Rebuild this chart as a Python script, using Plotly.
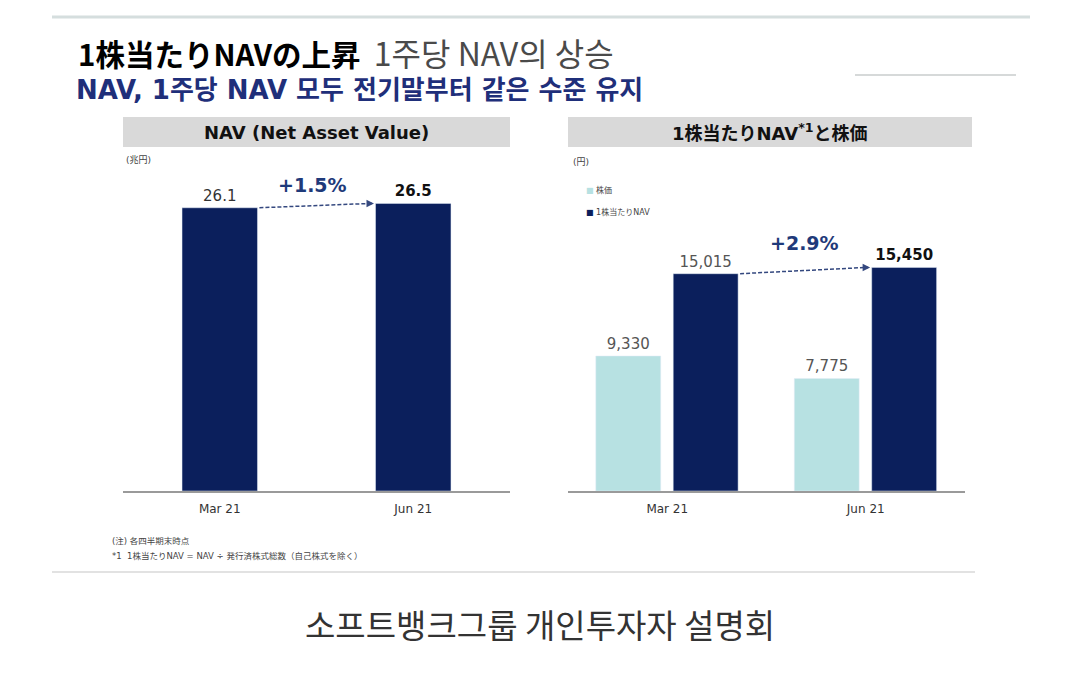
import plotly.graph_objects as go

# ---- data ----
periods = ["Mar 21", "Jun 21"]
nav_trillion = [26.1, 26.5]
nav_change = "+1.5%"
stock_price = [9330, 7775]
nav_per_share = [15015, 15450]
nps_change = "+2.9%"
series_names = ["株価", "1株当たりNAV"]

NAVY = "#0b1f5c"
TEAL = "#b7e1e2"
LAT = "DejaVu Sans, Noto Sans CJK JP"
JP = "Noto Sans CJK JP"
KR = "Noto Sans CJK KR"

W, H = 1080, 674
OFF = 8  # page body margin
def px(x):
    return (x - OFF) / W
def py(y):
    return 1 - (y - OFF) / H

fig = go.Figure()

# bar geometry (category units)
L_W, L_OFF = 0.39, -0.195
S_W, S_OFF = 0.327, -0.36
N_W, N_OFF = 0.327, 0.03

# left chart
fig.add_trace(go.Bar(
    x=periods, y=nav_trillion, xaxis="x", yaxis="y",
    marker_color=NAVY, width=L_W, offset=L_OFF,
    text=[f"{nav_trillion[0]}", f"<b>{nav_trillion[1]}</b>"],
    textposition="outside", cliponaxis=False,
    textfont=dict(family=LAT, size=15, color=["#333333", "#111111"]),
    showlegend=False, hoverinfo="skip",
))

# right chart
fig.add_trace(go.Bar(
    x=periods, y=stock_price, xaxis="x2", yaxis="y2", name=series_names[0],
    marker_color=TEAL, width=S_W, offset=S_OFF,
    text=[f"{v:,}" for v in stock_price],
    textposition="outside", cliponaxis=False,
    textfont=dict(family=LAT, size=15, color="#555555"),
    showlegend=False, hoverinfo="skip",
))
fig.add_trace(go.Bar(
    x=periods, y=nav_per_share, xaxis="x2", yaxis="y2", name=series_names[1],
    marker_color=NAVY, width=N_W, offset=N_OFF,
    text=[f"{nav_per_share[0]:,}", f"<b>{nav_per_share[1]:,}</b>"],
    textposition="outside", cliponaxis=False,
    textfont=dict(family=LAT, size=15, color=["#555555", "#111111"]),
    showlegend=False, hoverinfo="skip",
))

y_bottom = py(491)
y_top = py(160)

axis_common = dict(
    showgrid=False, zeroline=False, showline=True, linecolor="#9a9a9a",
    linewidth=1.5, ticks="", ticklabelstandoff=6,
    tickfont=dict(family=LAT, size=12, color="#333333"),
    fixedrange=True,
)
fig.update_layout(
    width=W, height=H,
    margin=dict(l=0, r=0, t=0, b=0),
    paper_bgcolor="white", plot_bgcolor="white",
    barmode="overlay",
    xaxis=dict(domain=[px(123), px(510)], anchor="y", **axis_common),
    yaxis=dict(domain=[y_bottom, y_top], range=[0, 30.5], visible=False),
    xaxis2=dict(domain=[px(568), px(965)], anchor="y2", **axis_common),
    yaxis2=dict(domain=[y_bottom, y_top], range=[0, 22870], visible=False),
    showlegend=False,
    font=dict(family=LAT),
)

shapes = []
annotations = []

# slide frame
shapes.append(dict(type="line", xref="paper", yref="paper", x0=px(52), x1=px(1030),
                   y0=py(17), y1=py(17), line=dict(color="#d5dede", width=3)))
shapes.append(dict(type="line", xref="paper", yref="paper", x0=px(52), x1=px(975),
                   y0=py(572), y1=py(572), line=dict(color="#e2e2e2", width=2)))
shapes.append(dict(type="line", xref="paper", yref="paper", x0=px(855), x1=px(1016),
                   y0=py(75), y1=py(75), line=dict(color="#c8cccc", width=1.5)))

# header boxes
for x0, x1, label in [(123, 510, "<b>NAV (Net Asset Value)</b>"),
                      (568, 972, "<b>1株当たりNAV<sup>*1</sup>と株価</b>")]:
    shapes.append(dict(type="rect", xref="paper", yref="paper", x0=px(x0), x1=px(x1),
                       y0=py(147), y1=py(117), fillcolor="#d9d9d9", line=dict(width=0),
                       layer="below"))
    annotations.append(dict(xref="paper", yref="paper", x=(px(x0) + px(x1)) / 2, y=py(132),
                            text=label, showarrow=False, xanchor="center", yanchor="middle",
                            font=dict(family=LAT, size=18, color="#111111")))

# units
annotations.append(dict(xref="paper", yref="paper", x=px(124), y=py(160), text="(兆円)",
                        showarrow=False, xanchor="left", yanchor="middle",
                        font=dict(family=LAT, size=9, color="#444444")))
annotations.append(dict(xref="paper", yref="paper", x=px(571), y=py(162), text="(円)",
                        showarrow=False, xanchor="left", yanchor="middle",
                        font=dict(family=LAT, size=9, color="#444444")))

# legend (right chart)
for i, (nm, col) in enumerate(zip(series_names, [TEAL, NAVY])):
    annotations.append(dict(xref="paper", yref="paper", x=px(584), y=py(190 + 22 * i),
                            text=f"<span style='color:{col}'>■</span> {nm}",
                            showarrow=False, xanchor="left", yanchor="middle",
                            font=dict(family=LAT, size=8, color="#444444")))

# change arrows
ARROW = "#34487f"
def change_arrow(xr, yr, x0, x1, v0, v1, label, lab_x, lab_y):
    shapes.append(dict(type="line", xref=xr, yref=yr, x0=x0 + 0.01, x1=x1 - 0.02,
                       y0=v0, y1=v1, line=dict(color=ARROW, width=1.5, dash="4px,2px")))
    annotations.append(dict(xref=xr, yref=yr, x=x1 - 0.008, y=v1, ax=-7, ay=0,
                            showarrow=True, arrowhead=2, arrowsize=1, arrowwidth=1.5,
                            arrowcolor=ARROW, text=""))
    annotations.append(dict(xref="paper", yref="paper", x=px(lab_x), y=py(lab_y),
                            text=f"<b>{label}</b>",
                            showarrow=False, xanchor="center", yanchor="middle",
                            font=dict(family=LAT, size=19, color="#1f3a7a")))

change_arrow("x", "y", L_OFF + L_W, 1 + L_OFF, nav_trillion[0], nav_trillion[1],
             nav_change, 312, 185)
change_arrow("x2", "y2", N_OFF + N_W, 1 + N_OFF, nav_per_share[0], nav_per_share[1],
             nps_change, 804, 243)

# titles
annotations.append(dict(xref="paper", yref="paper", x=px(76), y=py(52),
                        text="<b>1株当たりNAVの上昇</b>  <span style='color:#4a4a4a;font-size:32px'>1주당 NAV의 상승</span>",
                        showarrow=False, xanchor="left", yanchor="middle",
                        font=dict(family=JP, size=29.5, color="#000000")))
annotations.append(dict(xref="paper", yref="paper", x=px(74), y=py(90),
                        text="<b>NAV, 1주당 NAV 모두 전기말부터 같은 수준 유지</b>",
                        showarrow=False, xanchor="left", yanchor="middle",
                        font=dict(family="DejaVu Sans, Noto Sans CJK KR", size=26, color="#1f2f7a")))

# footnotes
annotations.append(dict(xref="paper", yref="paper", x=px(110), y=py(541),
                        text="(注) 各四半期末時点", showarrow=False, xanchor="left",
                        yanchor="middle", font=dict(family=LAT, size=8.5, color="#444444")))
annotations.append(dict(xref="paper", yref="paper", x=px(110), y=py(556),
                        text="*1  1株当たりNAV = NAV ÷ 発行済株式総数（自己株式を除く）",
                        showarrow=False, xanchor="left",
                        yanchor="middle", font=dict(family=LAT, size=8.5, color="#444444")))

# caption
annotations.append(dict(xref="paper", yref="paper", x=px(540), y=py(624),
                        text="소프트뱅크그룹 개인투자자 설명회", showarrow=False,
                        xanchor="center", yanchor="middle",
                        font=dict(family=KR, size=33, color="#333333")))

fig.update_layout(shapes=shapes, annotations=annotations)
fig.write_html("out.html")
